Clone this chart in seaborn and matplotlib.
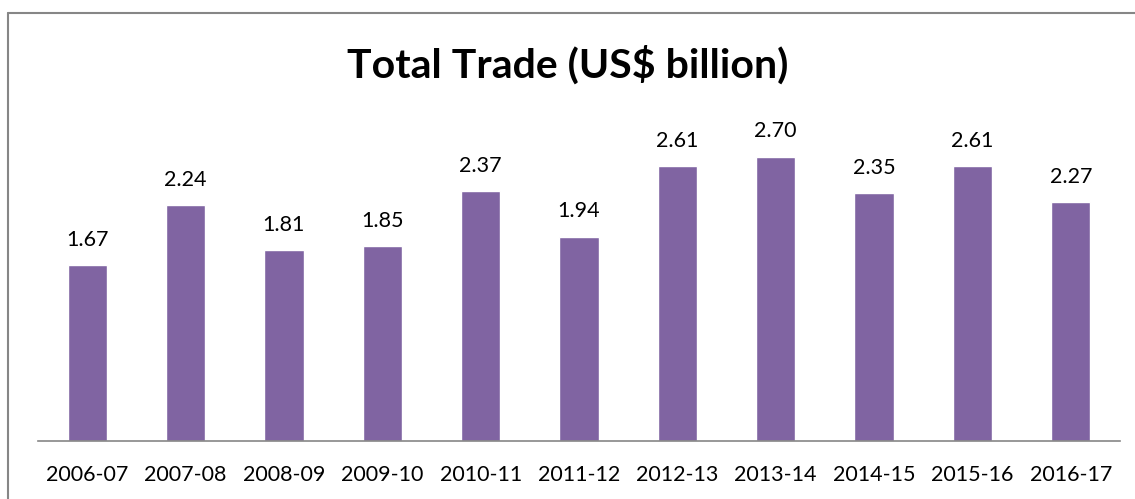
import matplotlib

matplotlib.use("Agg")
import matplotlib.pyplot as plt
import pandas as pd
import seaborn as sns
from matplotlib.lines import Line2D

years = ["2006-07", "2007-08", "2008-09", "2009-10", "2010-11", "2011-12",
         "2012-13", "2013-14", "2014-15", "2015-16", "2016-17"]
total_trade = [1.67, 2.24, 1.81, 1.85, 2.37, 1.94, 2.61, 2.70, 2.35, 2.61, 2.27]

BAR_COLOR = "#8064A2"
GRID_GRAY = "#868686"

sns.set_theme(style="white")
plt.rcParams["font.family"] = ["Lato", "DejaVu Sans"]

df = pd.DataFrame({"year": years, "trade": total_trade})

fig = plt.figure(figsize=(11.35, 4.99), dpi=100)
ax = fig.add_axes([38 / 1135, 58 / 499, (1120 - 38) / 1135, 316 / 499])

sns.barplot(data=df, x="year", y="trade", color=BAR_COLOR, width=0.40,
            saturation=1, ax=ax)

for container in ax.containers:
    ax.bar_label(container, fmt="%.2f", padding=11, fontsize=15.5, color="black")

ax.set_ylim(0, 3.0)
ax.set_xlim(-0.5, len(years) - 0.5)
ax.set_xlabel("")
ax.set_ylabel("")
ax.set_yticks([])
ax.tick_params(axis="x", labelsize=15.5, colors="black", pad=17, length=0)
for side in ["top", "right", "left"]:
    ax.spines[side].set_visible(False)
ax.spines["bottom"].set_color(GRID_GRAY)
ax.spines["bottom"].set_linewidth(1.2)

fig.text(0.5, 1 - 65 / 499, "Total Trade (US$ billion)", ha="center", va="center",
         fontsize=29.5, fontweight="bold", color="black")

# chart area frame (top and left edges visible in the crop)
fig.add_artist(Line2D([8 / 1135, 1.0], [1 - 13 / 499, 1 - 13 / 499],
                      transform=fig.transFigure, color=GRID_GRAY, linewidth=1.5))
fig.add_artist(Line2D([8 / 1135, 8 / 1135], [0.0, 1 - 13 / 499],
                      transform=fig.transFigure, color=GRID_GRAY, linewidth=1.5))

fig.savefig("out.png", dpi=100)
plt.close(fig)
